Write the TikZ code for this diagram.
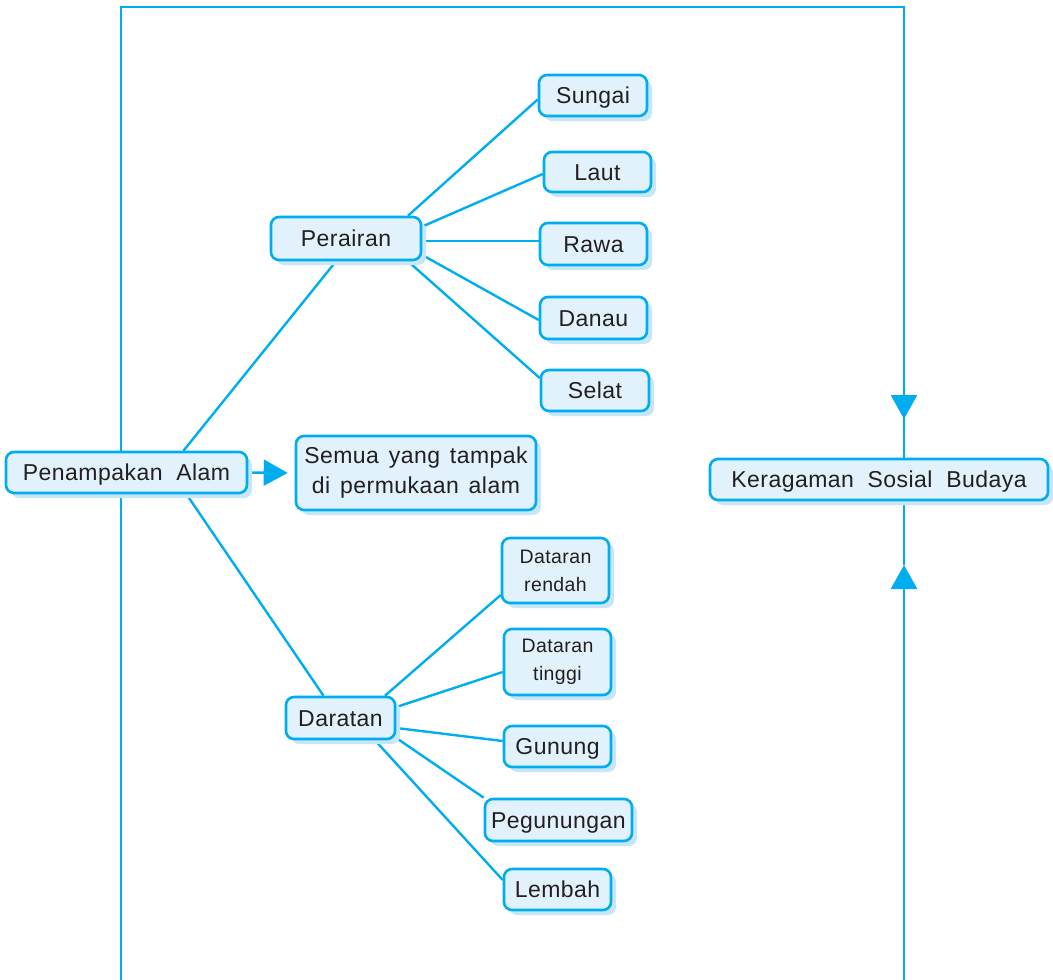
\documentclass[tikz,border=0pt]{standalone}
\usepackage{fontspec}
\setmainfont{Liberation Sans}[LetterSpace=2]
\usetikzlibrary{arrows.meta,shadows,backgrounds}
\definecolor{cyanline}{HTML}{00AEEF}
\definecolor{boxfill}{HTML}{E1F2FC}
\definecolor{shadowc}{HTML}{C9E6F7}
\definecolor{txt}{HTML}{231F20}
\newcommand{\wsp}{\ \hspace{3pt}}
\tikzset{
  box/.style={draw=cyanline, line width=2.6pt, fill=boxfill, rounded corners=8pt,
    text=txt, font=\fontsize{23}{30}\selectfont, inner sep=0pt, align=center,
    drop shadow={shadow xshift=5pt, shadow yshift=-5pt, fill=shadowc, opacity=1}},
  one/.style={box, text height=16.5pt, text depth=0pt},
  smallbox/.style={box, font=\fontsize{19.5}{28}\selectfont},
  conn/.style={draw=cyanline, line width=2.4pt},
  frame/.style={draw=cyanline, line width=2.6pt},
  tri/.style={-{Triangle[length=24pt,width=26pt]}},
}
\begin{document}
\begin{tikzpicture}[x=1pt,y=-1pt]
\useasboundingbox (0,0) rectangle (1053,980);
% frame coordinates
\coordinate (bl) at (121,980);
\coordinate (tl) at (121,7);
\coordinate (tr) at (904,7);
\coordinate (dtip) at (904,419);
\coordinate (br) at (904,980);
\coordinate (utip) at (904,565);
% nodes
\node[one, minimum width=241pt, minimum height=41pt] (pa) at (126.5,472.5) {Penampakan\ \ Alam};
\node[box, minimum width=240pt, minimum height=74pt] (sem) at (416,473) {Semua\wsp yang\wsp tampak\\di\wsp permukaan\wsp alam};
\node[one, minimum width=150pt, minimum height=43pt] (per) at (346,238.5) {Perairan};
\node[one, minimum width=108pt, minimum height=41pt] (sun) at (593,95.5) {Sungai};
\node[one, minimum width=107pt, minimum height=40pt] (lau) at (597.5,172) {Laut};
\node[one, minimum width=107pt, minimum height=42pt] (raw) at (593.5,244) {Rawa};
\node[one, minimum width=107pt, minimum height=42pt] (dan) at (593.5,318) {Danau};
\node[one, minimum width=108pt, minimum height=41pt] (sel) at (595,390.5) {Selat};
\node[one, minimum width=109pt, minimum height=42pt] (dar) at (340.5,718) {Daratan};
\node[smallbox, minimum width=107pt, minimum height=65pt] (ren) at (555.5,570.5) {Dataran\\rendah};
\node[smallbox, minimum width=107pt, minimum height=66pt] (tin) at (557.5,662) {Dataran\\tinggi};
\node[one, minimum width=107pt, minimum height=41pt] (gun) at (557.5,746.5) {Gunung};
\node[one, minimum width=147pt, minimum height=42pt] (peg) at (558.5,820) {Pegunungan};
\node[one, minimum width=107pt, minimum height=41pt] (lem) at (557.5,889.5) {Lembah};
\node[one, minimum width=338pt, minimum height=41pt] (kb) at (879,479.5) {Keragaman\ \ Sosial\ \ Budaya};
\begin{scope}[on background layer]
% frame
\draw[frame] (pa.north -| bl) -- (tl) -- (tr) -- (dtip);
\draw[frame] (pa.south -| bl) -- (bl);
\draw[frame, tri] (tr) -- (dtip);
\draw[frame] (dtip) -- (kb.north -| dtip);
\draw[frame, tri] (br) -- (utip);
\draw[frame] (utip) -- (kb.south -| utip);
% main connectors
\draw[conn] ([xshift=57pt]pa.north) -- ([xshift=-10pt]per.south);
\draw[conn] ([xshift=60pt]pa.south) -- ([xshift=-17pt]dar.north);
\draw[conn, tri, shorten >=7pt] (pa.east) -- (sem.west);
% Perairan
\draw[conn] ([xshift=62pt]per.north) -- ([yshift=-4pt]sun.west);
\draw[conn] ([yshift=12pt]per.east) -- ([yshift=-2pt]lau.west);
\draw[conn] ([yshift=-2.5pt]per.east) -- ([yshift=3pt]raw.west);
\draw[conn] ([yshift=-16.5pt]per.east) -- ([yshift=-2pt]dan.west);
\draw[conn] ([xshift=62pt]per.south) -- ([yshift=12.5pt]sel.west);
% Daratan
\draw[conn] ([xshift=44.5pt]dar.north) -- ([yshift=-24.5pt]ren.west);
\draw[conn] ([yshift=11pt]dar.east) -- ([yshift=-10pt]tin.west);
\draw[conn] ([yshift=-10pt]dar.east) -- ([yshift=5.5pt]gun.west);
\draw[conn] ([yshift=-20pt]dar.east) -- (peg.north west);
\draw[conn] ([xshift=34.5pt]dar.south) -- ([yshift=9.5pt]lem.west);
\end{scope}
\end{tikzpicture}
\end{document}
